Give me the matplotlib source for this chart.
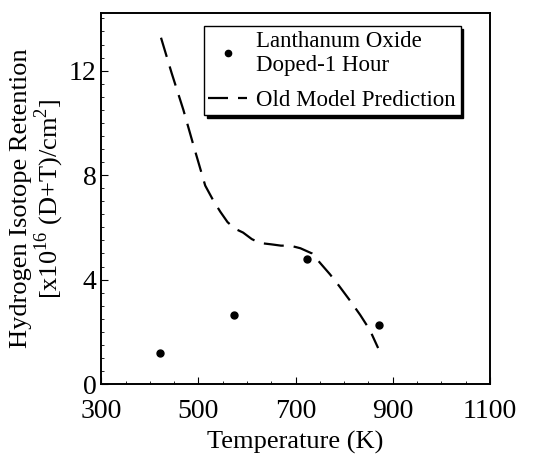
import matplotlib
matplotlib.use("Agg")
import matplotlib.pyplot as plt
from matplotlib.ticker import MultipleLocator

plt.rcParams['font.family'] = ['Liberation Serif', 'DejaVu Serif']
plt.rcParams['mathtext.fontset'] = 'custom'
plt.rcParams['mathtext.rm'] = 'Liberation Serif'

# measured retention, lanthanum oxide doped 1 hour
temp_meas = [421, 574, 724, 872]
ret_meas = [1.19, 2.64, 4.79, 2.26]

# old model prediction curve
temp_model = [423, 445, 469, 492, 514, 530, 545, 560, 575, 592, 610, 627, 650, 670, 689, 710, 734,
              750, 771, 790, 812, 833, 853, 870]
ret_model = [13.26, 11.9, 10.5, 9.0, 7.6, 7.05, 6.6, 6.2, 5.95, 5.8, 5.55, 5.4, 5.35, 5.3, 5.3, 5.2, 5.0,
             4.65, 4.2, 3.75, 3.2, 2.65, 2.07, 1.38]

xticks = [300, 500, 700, 900, 1100]
yticks = [0, 4, 8, 12]

fig = plt.figure(figsize=(5.33, 4.54), dpi=100)
ax = fig.add_axes([0.19, 0.154, 0.729, 0.817])

ax.plot(temp_model, ret_model, color='black', lw=1.6, dashes=(9, 4.5),
        label='Old Model Prediction')
ax.plot(temp_meas, ret_meas, 'o', color='black', ms=5,
        label='Lanthanum Oxide\nDoped-1 Hour')

ax.set_xlim(300, 1100)
ax.set_ylim(0, 14.2)
ax.set_xticks(xticks)
ax.set_yticks(yticks)
ax.xaxis.set_minor_locator(MultipleLocator(50))
ax.yaxis.set_minor_locator(MultipleLocator(0.5))
ax.tick_params(which='both', direction='in', labelsize=20, top=False, right=False)
ax.tick_params(which='major', length=5)
ax.tick_params(which='minor', length=2.5)
ax.tick_params(axis='x', which='major', pad=11)
for s in ax.spines.values():
    s.set_linewidth(1.4)

ax.set_xlabel('Temperature (K)', fontsize=19, labelpad=5)
ax.set_ylabel('Hydrogen Isotope Retention\n[x10$^{16}$ (D+T)/cm$^{2}$]', fontsize=19,
              linespacing=1.0, labelpad=2)

h, l = ax.get_legend_handles_labels()
leg = ax.legend(h[::-1], l[::-1], loc='upper right', bbox_to_anchor=(0.925, 0.965),
                fontsize=16.5, frameon=True, fancybox=False, shadow={'color': 'black', 'alpha': 1},
                handlelength=1.7, handletextpad=0.4, borderpad=0.2, labelspacing=0.6,
                borderaxespad=0.0, markerscale=0.9)
leg.get_frame().set_edgecolor('black')
leg.get_frame().set_linewidth(1.0)

fig.savefig('out.png', dpi=100)
